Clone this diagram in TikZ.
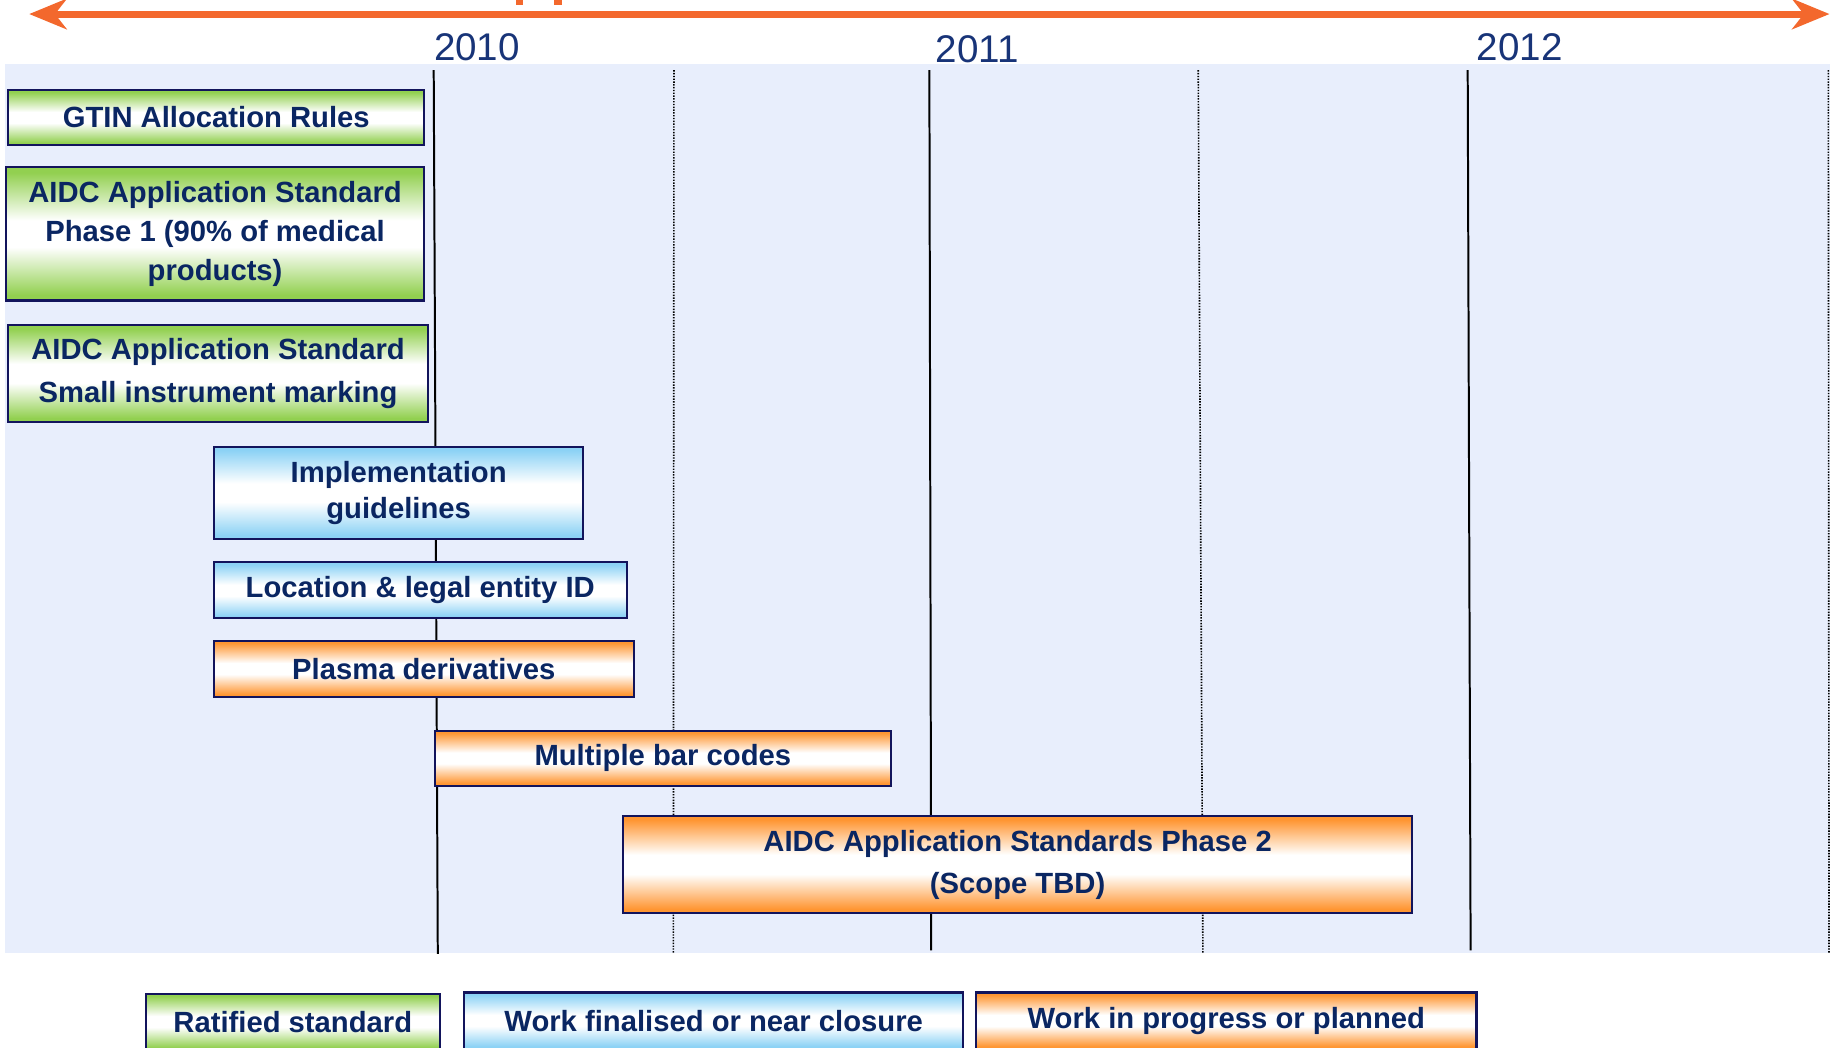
\documentclass[tikz,border=0pt]{standalone}
\usepackage{fontspec}
\setmainfont{Liberation Sans}
\usetikzlibrary{arrows.meta}
\definecolor{gtop}{RGB}{146,208,80}
\definecolor{btop}{RGB}{140,210,245}
\definecolor{otop}{RGB}{255,150,50}
\definecolor{txtc}{RGB}{10,38,98}
\definecolor{yearc}{RGB}{24,52,120}
\definecolor{bordc}{RGB}{18,20,92}
\definecolor{panelc}{RGB}{232,238,252}
\definecolor{arrowc}{RGB}{243,104,45}
\pgfdeclareverticalshading{greenbar}{100bp}{color(0bp)=(gtop); color(27bp)=(gtop); color(45bp)=(white); color(55bp)=(white); color(73bp)=(gtop); color(100bp)=(gtop)}
\pgfdeclareverticalshading{bluebar}{100bp}{color(0bp)=(btop); color(27bp)=(btop); color(45bp)=(white); color(55bp)=(white); color(73bp)=(btop); color(100bp)=(btop)}
\pgfdeclareverticalshading{orangebar}{100bp}{color(0bp)=(otop); color(27bp)=(otop); color(45bp)=(white); color(55bp)=(white); color(73bp)=(otop); color(100bp)=(otop)}
\newcommand\boxfnt[1]{\fontsize{12.5}{#1}\bfseries\selectfont}
\begin{document}
\begin{tikzpicture}[x=0.5pt,y=-0.5pt,
  bar/.style={draw=bordc, line width=0.9pt, inner sep=0pt, text=txtc, align=center, font=\boxfnt{16}},
  gbar/.style={bar, shade, shading=greenbar},
  bbar/.style={bar, shade, shading=bluebar},
  obar/.style={bar, shade, shading=orangebar},
  year/.style={text=yearc, inner sep=0pt, font=\fontsize{16.5}{18}\selectfont},
  solidline/.style={black, line width=0.85pt},
  dotline/.style={black, line width=0.7pt, dash pattern=on 0.6pt off 0.6pt},
  timearrow/.style={arrowc, line width=3pt, {Stealth[length=16pt,width=13pt,inset=5pt]}-{Stealth[length=16pt,width=13pt,inset=5pt]}}
]
\useasboundingbox (0,0) rectangle (1568,896);
% panel
\fill[panelc] (4,55) rectangle (1565,815);
% vertical lines
\draw[solidline] (371,60) -- (374.5,816);
\draw[solidline] (795,60) -- (796.6,813);
\draw[solidline] (1255.5,60) -- (1258,813);
\draw[dotline] (576.5,60) -- (576,815);
\draw[dotline] (1025,60) -- (1029,815);
\draw[dotline] (1564,60) -- (1564.6,815);
% time arrow
\coordinate (arL) at (25,12);
\coordinate (arR) at (1565,12);
\draw[timearrow] (arL) -- (arR);
\fill[arrowc] (441,0) rectangle (447.5,4);
\fill[arrowc] (474,0) rectangle (481,4);
% years
\node[year] (y2010) at (408,40) {2010};
\node[year] (y2011) at (836,42) {2011};
\node[year] (y2012) at (1300,40) {2012};
% bars
\node[gbar, minimum width=178pt, minimum height=23.5pt] (gtin) at (185,100.5) {GTIN Allocation Rules};
\node[gbar, minimum width=179pt, minimum height=57pt, font=\boxfnt{16.75}] (ph1) at (184,200) {AIDC Application Standard\\Phase 1 (90\% of medical\\products)};
\node[gbar, minimum width=179.5pt, minimum height=41.5pt, font=\boxfnt{18}] (small) at (186.5,319.5) {AIDC Application Standard\\Small instrument marking};
\node[bbar, minimum width=158pt, minimum height=39.5pt, font=\boxfnt{15.5}] (impl) at (341,421.5) {Implementation\\guidelines};
\node[bbar, minimum width=176.5pt, minimum height=24pt] (loc) at (359.5,505) {Location \& legal entity ID};
\node[obar, minimum width=179.5pt, minimum height=24pt] (plasma) at (362.5,572) {Plasma derivatives};
\node[obar, minimum width=195pt, minimum height=23.5pt] (multi) at (567,648.5) {Multiple bar codes};
\node[obar, minimum width=337.5pt, minimum height=41.5pt, font=\boxfnt{18}] (ph2) at (870.5,739.5) {AIDC Application Standards Phase 2\\(Scope TBD)};
% legend
\node[gbar, minimum width=125.5pt, minimum height=24pt] (legR) at (250.5,874) {Ratified standard};
\node[bbar, minimum width=213.5pt, minimum height=24pt] (legF) at (610.5,873) {Work finalised or near closure};
\node[obar, minimum width=214pt, minimum height=24pt] (legW) at (1049,873) {Work in progress or planned};
\end{tikzpicture}
\end{document}
